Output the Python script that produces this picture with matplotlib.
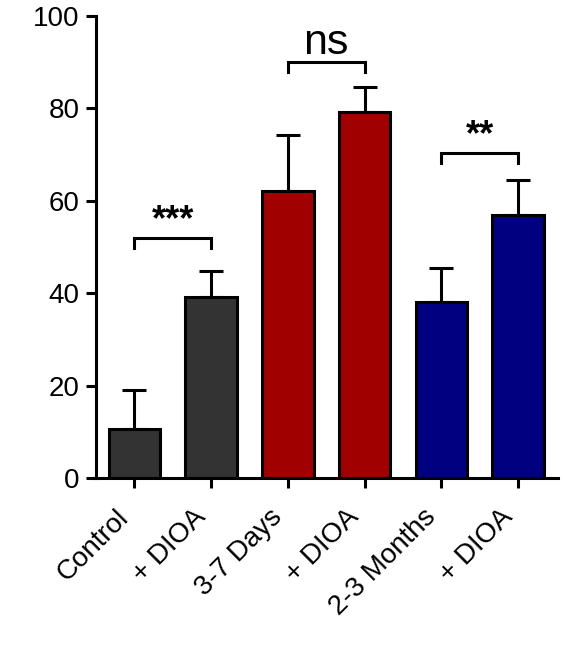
import matplotlib
matplotlib.use("Agg")
import matplotlib.pyplot as plt

plt.rcParams['font.family'] = ['Liberation Sans', 'DejaVu Sans']

categories = ["Control", "+ DIOA", "3-7 Days", "+ DIOA", "2-3 Months", "+ DIOA"]
means = [10.6, 39.2, 62.2, 79.3, 38.2, 56.9]
sem = [8.5, 5.5, 12.0, 5.4, 7.2, 7.6]
colors = ["#333333", "#333333", "#A00000", "#A00000", "#000080", "#000080"]
yticks = [0, 20, 40, 60, 80, 100]
# significance: (left index, right index, bracket height, label)
sig = [(0, 1, 52.0, "***"), (2, 3, 90.0, "ns"), (4, 5, 70.3, "**")]

fig = plt.figure(figsize=(5.66, 6.68), dpi=100)
ax = fig.add_axes([96/566, 1 - 478/668, (558-96)/566, (478-16)/668])

lw = 2.2
x = list(range(len(categories)))
ax.errorbar(x, means, yerr=[[0]*len(sem), sem], fmt='none', ecolor='black',
            elinewidth=lw, capsize=8.6, capthick=lw, zorder=1)
ax.bar(x, means, width=0.67, color=colors, edgecolor='black', linewidth=lw, zorder=2)

for i, j, h, lab in sig:
    ax.plot([i, i, j, j], [h - 2.2, h, h, h - 2.2], color='black', lw=lw,
            solid_joinstyle='miter', clip_on=False)
    if lab == "ns":
        ax.text((i + j) / 2, h + 1.7, lab, ha='center', va='baseline', fontsize=31)
    else:
        ax.text((i + j) / 2, h + 1.7, lab, ha='center', va='baseline', fontsize=26,
                fontweight='bold')

ax.set_xlim(-0.5, 5.52)
ax.set_ylim(0, 100)
ax.set_yticks(yticks)
ax.set_yticklabels([str(v) for v in yticks], fontsize=20)
ax.set_xticks(x)
ax.set_xticklabels(categories, rotation=45, ha='right', fontsize=20)
for s in ['top', 'right']:
    ax.spines[s].set_visible(False)
for s in ['left', 'bottom']:
    ax.spines[s].set_linewidth(lw)
ax.tick_params(axis='both', direction='out', length=7, width=lw, colors='black')
ax.tick_params(axis='x', pad=12)
ax.tick_params(axis='y', pad=5)

fig.savefig("out.png", dpi=100)
